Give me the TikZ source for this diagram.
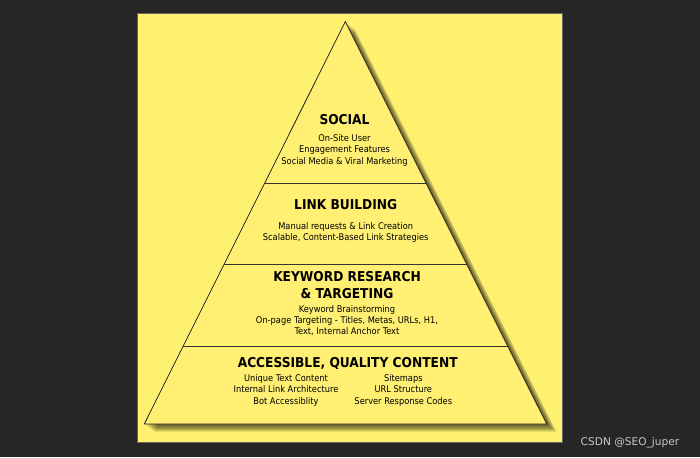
\documentclass[tikz,border=0pt]{standalone}
\usepackage{fontspec}
\setmainfont{DejaVu Sans Condensed}
\newfontfamily\wmfont{DejaVu Sans}
\usetikzlibrary{calc}
\definecolor{bgdark}{RGB}{38,38,38}
\definecolor{padyellow}{RGB}{255,241,112}
\definecolor{pyryellow}{RGB}{255,240,115}
\definecolor{wmgrey}{RGB}{200,200,200}
\tikzset{
  titletxt/.style={font=\fontsize{13.6}{16.7}\selectfont\bfseries, align=center, inner sep=0pt, text=black},
  bodytxt/.style={font=\fontsize{9.2}{11.3}\selectfont, align=center, inner sep=0pt, text=black},
  edge/.style={draw=black!85, line width=0.8pt, line join=miter},
  divider/.style={draw=black!80, line width=0.7pt},
}
\begin{document}
\begin{tikzpicture}[x=1pt,y=-1pt]
\useasboundingbox (0,0) rectangle (700,457);
\fill[bgdark] (0,0) rectangle (700,457);
\draw[fill=padyellow, draw=black!60, line width=0.5pt] (137.5,13.5) rectangle (562.5,442.5);
% pyramid corners
\coordinate (A) at (345.3,21.7);
\coordinate (BL) at (144.3,424);
\coordinate (BR) at (546.7,424);
% shadow
\foreach \d in {1,...,10}{
  \fill[black, opacity=0.085] ($(A)+(\d,\d*0.8)$) -- ($(BR)+(\d,\d*0.8)$) -- ($(BL)+(\d,\d*0.8)$) -- cycle;
}
\fill[pyryellow] (A) -- (BR) -- (BL) -- cycle;
% dividers
\coordinate (d1l) at ($(A)!0.4017!(BL)$);
\coordinate (d1r) at ($(A)!0.4017!(BR)$);
\coordinate (d2l) at ($(A)!0.603!(BL)$);
\coordinate (d2r) at ($(A)!0.603!(BR)$);
\coordinate (d3l) at ($(A)!0.806!(BL)$);
\coordinate (d3r) at ($(A)!0.806!(BR)$);
\draw[divider] (d1l) -- (d1r);
\draw[divider] (d2l) -- (d2r);
\draw[divider] (d3l) -- (d3r);
\draw[edge] (A) -- (BR) -- (BL) -- cycle;
% texts
\node[titletxt] (t1) at (344.5,120) {SOCIAL};
\node[bodytxt, anchor=north] (b1) at (344.5,134.5) {On-Site User\\Engagement Features\\Social Media \& Viral Marketing};
\node[titletxt] (t2) at (345.7,205) {LINK BUILDING};
\node[bodytxt, anchor=north] (b2) at (345.7,222.5) {Manual requests \& Link Creation\\Scalable, Content-Based Link Strategies};
\node[titletxt] (t3) at (347,285) {KEYWORD RESEARCH\\\& TARGETING};
\node[bodytxt, anchor=north] (b3) at (347,305) {Keyword Brainstorming\\On-page Targeting - Titles, Metas, URLs, H1,\\Text, Internal Anchor Text};
\node[titletxt] (t4) at (347.7,363.3) {ACCESSIBLE, QUALITY CONTENT};
\node[bodytxt, anchor=north] (b4l) at (286,374.5) {Unique Text Content\\Internal Link Architecture\\Bot Accessiblity};
\node[bodytxt, anchor=north] (b4r) at (403.3,374.5) {Sitemaps\\URL Structure\\Server Response Codes};
% watermark
\node[font=\wmfont\fontsize{10.6}{12}\selectfont, text=wmgrey, inner sep=0pt] (wm) at (630,443) {CSDN @SEO\_juper};
\end{tikzpicture}
\end{document}
